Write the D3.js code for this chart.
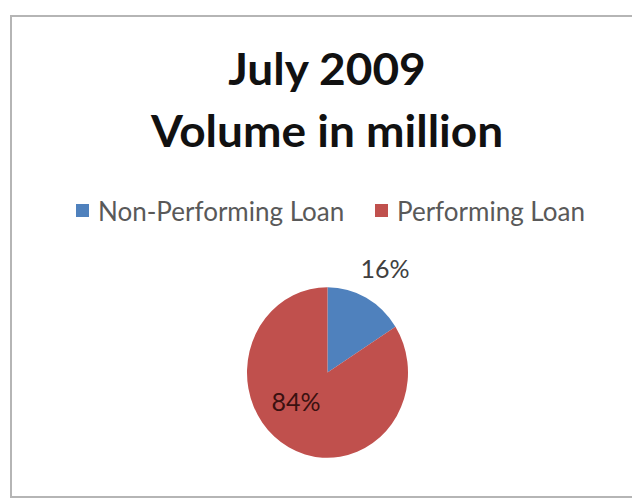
<!DOCTYPE html>
<html>
<head>
<meta charset="utf-8">
<script src="https://cdn.jsdelivr.net/npm/d3@7"></script>
<style>
  html, body { margin: 0; padding: 0; background: #fff; }
  svg { display: block; }
</style>
</head>
<body>
<svg id="chart" width="632" height="499"></svg>
<script>
// Loan volume split, July 2009
const categories = ["Non-Performing Loan", "Performing Loan"];
const shares = [16, 84];
const colors = ["#4F81BD", "#C0504D"];
const titleLines = ["July 2009", "Volume in million"];

const svg = d3.select("#chart");
const W = 632, H = 499;
const font = "Lato, 'Open Sans', sans-serif";

// chart frame
svg.append("rect")
  .attr("x", 11).attr("y", 16)
  .attr("width", W).attr("height", H - 18)
  .attr("fill", "#fff")
  .attr("stroke", "#b5b5b5")
  .attr("stroke-width", 2);

// title, slightly widened
svg.append("g").selectAll("text")
  .data(titleLines)
  .join("text")
  .attr("transform", (d, i) => `translate(327,${85 + i * 62}) scale(1.07,1)`)
  .attr("text-anchor", "middle")
  .attr("font-family", font)
  .attr("font-weight", "bold")
  .attr("font-size", 43)
  .attr("fill", "#111")
  .text(d => d);

// legend
const legendX = [76, 375];
const legend = svg.append("g").selectAll("g")
  .data(categories)
  .join("g")
  .attr("transform", (d, i) => `translate(${legendX[i]},204)`);
legend.append("rect")
  .attr("width", 13).attr("height", 13)
  .attr("fill", (d, i) => colors[i]);
legend.append("text")
  .attr("x", 22).attr("y", 17)
  .attr("font-family", font)
  .attr("font-size", 26)
  .attr("fill", "#595959")
  .text(d => d);

// pie, drawn slightly taller than wide
const cx = 327.5, cy = 372.5, R = 80.5, sy = 1.06;
const pie = d3.pie().sort(null).startAngle(0).endAngle(2 * Math.PI);
const arcs = pie(shares);
const arc = d3.arc().innerRadius(0).outerRadius(R);

const g = svg.append("g").attr("transform", `translate(${cx},${cy})`);
g.append("g")
  .attr("transform", `scale(1,${sy})`)
  .selectAll("path")
  .data(arcs)
  .join("path")
  .attr("d", arc)
  .attr("fill", (d, i) => colors[i]);

// data labels: small slice outside, large slice inside
const outside = d3.arc().innerRadius(R * 1.38).outerRadius(R * 1.38);
const inside = d3.arc().innerRadius(R * 0.5).outerRadius(R * 0.5);
g.selectAll("text")
  .data(arcs)
  .join("text")
  .attr("transform", (d, i) => {
    const [x, y] = i === 0 ? outside.centroid(d) : inside.centroid(d);
    return `translate(${x},${y * sy})`;
  })
  .attr("dx", (d, i) => i === 0 ? 4 : -12)
  .attr("dy", (d, i) => i === 0 ? "0.35em" : "0.05em")
  .attr("text-anchor", "middle")
  .attr("font-family", font)
  .attr("font-size", 25)
  .attr("fill", (d, i) => i === 0 ? "#404040" : "#3a1010")
  .text(d => d.data + "%");
</script>
</body>
</html>
